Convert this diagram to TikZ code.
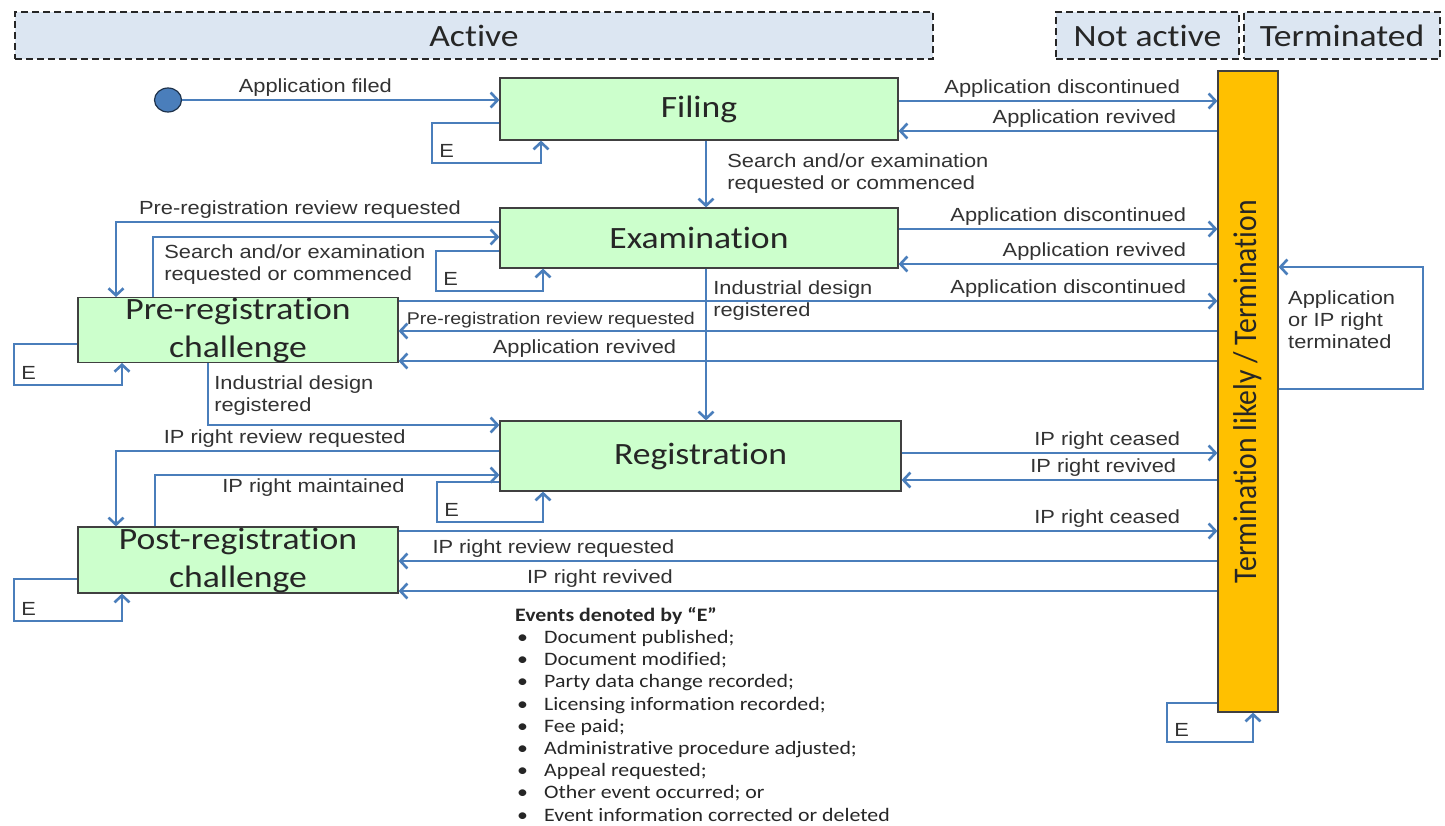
\documentclass[tikz,border=0pt]{standalone}
\usepackage{fontspec}
\setmainfont{Liberation Sans}
\newfontfamily\arrowfont[FakeStretch=1.15]{Liberation Sans}
\newfontfamily\statefont[FakeStretch=1.15,Ligatures=NoCommon,Contextuals=NoAlternate]{Carlito}
\newfontfamily\barfont[FakeStretch=0.9,Ligatures=NoCommon,Contextuals=NoAlternate]{Carlito}
\newfontfamily\notefont[FakeStretch=1.15,Ligatures=NoCommon,Contextuals=NoAlternate]{Carlito}
\usetikzlibrary{arrows.meta,shapes.geometric}
\definecolor{linkblue}{RGB}{74,126,187}
\definecolor{stategreen}{RGB}{204,255,204}
\definecolor{termorange}{RGB}{255,192,0}
\definecolor{phaseblue}{RGB}{220,230,242}
\definecolor{labelgray}{RGB}{50,50,50}

\begin{document}
\begin{tikzpicture}[x=1pt,y=-1pt,line join=miter,
    >={Straight Barb[length=7pt,width=15pt]},
    flow/.style={draw=linkblue,line width=2.6pt},
    state/.style={draw=black!75,line width=1.2pt,fill=stategreen,inner sep=0pt,align=center,
      text=black!85,font=\statefont\fontsize{31}{38}\selectfont},
    phase/.style={draw=black!85,line width=2pt,dash pattern=on 7pt off 4pt,fill=phaseblue,
      inner sep=0pt,minimum height=47pt,text=black!85,font=\statefont\fontsize{31}{38}\selectfont},
    lbl/.style={inner sep=2pt,align=left,text=labelgray,font=\arrowfont\fontsize{19}{22}\selectfont},
    rlbl/.style={lbl,anchor=south east,pos=1,xshift=-34pt},
    elbl/.style={lbl,anchor=south west,inner sep=0pt,xshift=6pt,yshift=4pt}]
\useasboundingbox (0,0) rectangle (1445,825);

% phases
\node (active) [phase,minimum width=918pt] at (474,35.5) {Active};
\node (notactive) [phase,minimum width=183pt] at (1147.5,35.5) {Not active};
\node (terminated) [phase,minimum width=196pt] at (1342,35.5) {Terminated};

% states
\node (start) [ellipse,draw=black!60!linkblue,line width=1.2pt,fill=linkblue,minimum width=27pt,minimum height=24pt,inner sep=0pt] at (168,100) {};
\node (filing) [state,minimum width=398pt,minimum height=62pt] at (699,109) {Filing};
\node (exam) [state,minimum width=398pt,minimum height=60pt] at (699,238) {Examination};
\node (prereg) [state,minimum width=320pt,minimum height=64pt] at (238,330) {Pre-registration\\challenge};
\node (reg) [state,minimum width=401pt,minimum height=70pt] at (700.5,456) {Registration};
\node (postreg) [state,minimum width=320pt,minimum height=66pt] at (238,560) {Post-registration\\challenge};
\node (term) [draw=black!75,line width=1.2pt,fill=termorange,minimum width=60pt,minimum height=641pt,inner sep=0pt] at (1248,391.5) {};
\node (termtext) [rotate=90,text=black!85,font=\barfont\fontsize{33}{38}\selectfont] at (term.center) {Termination likely / Termination};

% filing
\draw[flow,->] (start) -- (filing.west |- start) node[lbl,above,pos=.42] {Application filed};
\draw[flow,->] (filing.east |- 0,101) -- (term.west |- 0,101) node[rlbl] {Application discontinued};
\draw[flow,<-] (filing.east |- 0,131) -- (term.west |- 0,131) node[rlbl,xshift=-4pt] {Application revived};
\draw[flow,->] (filing.west |- 0,123) -| (432,163) node[elbl] {E} -| (filing.south -| 541,0);
\draw[flow,->] (filing.south -| 706,0) -- (exam.north -| 706,0) node[lbl,anchor=west,pos=.5,xshift=18pt] {Search and/or examination\\requested or commenced};

% examination
\draw[flow,->] (exam.east |- 0,229) -- (term.west |- 0,229) node[rlbl,xshift=6pt] {Application discontinued};
\draw[flow,<-] (exam.east |- 0,264) -- (term.west |- 0,264) node[rlbl,xshift=6pt] {Application revived};
\draw[flow,->] (exam.west |- 0,251) -| (436,291) node[elbl] {E} -| (exam.south -| 543,0);
\draw[flow,->] (exam.west |- 0,222) -| (prereg.north -| 116,0) node[lbl,above,pos=.26] {Pre-registration review requested};
\draw[flow,->] (prereg.north -| 153,0) |- (exam.west |- 0,237) node[lbl,anchor=north west,pos=.5,xshift=8pt,yshift=-4pt] {Search and/or examination\\requested or commenced};
\draw[flow,->] (exam.south -| 706,0) -- (reg.north -| 706,0) node[lbl,anchor=west,pos=.21,xshift=4pt] {Industrial design\\registered};

% pre-registration challenge
\draw[flow,->] (prereg.west |- 0,344) -| (14,385) node[elbl] {E} -| (prereg.south -| 122,0);
\draw[flow,->] (prereg.east |- 0,301) -- (term.west |- 0,301) node[rlbl,xshift=6pt] {Application discontinued};
\draw[flow,<-] (prereg.east |- 0,331) -- (term.west |- 0,331) node[lbl,anchor=south west,pos=0,xshift=5pt,font=\arrowfont\fontsize{17}{20}\selectfont] {Pre-registration review requested};
\draw[flow,<-] (prereg.east |- 0,361) -- (term.west |- 0,361) node[lbl,above,pos=.227] {Application revived};
\draw[flow,->] (prereg.south -| 208,0) |- (reg.west |- 0,425) node[lbl,anchor=north west,pos=0,xshift=3pt,yshift=-9pt] {Industrial design\\registered};

% registration
\draw[flow,->] (reg.east |- 0,453) -- (term.west |- 0,453) node[rlbl] {IP right ceased};
\draw[flow,<-] (reg.east |- 0,480) -- (term.west |- 0,480) node[rlbl,xshift=-4pt] {IP right revived};
\draw[flow,->] (reg.west |- 0,482) -| (437,522) node[elbl] {E} -| (reg.south -| 543,0);
\draw[flow,->] (reg.west |- 0,451) -| (postreg.north -| 116,0) node[lbl,above,pos=.28] {IP right review requested};
\draw[flow,->] (postreg.north -| 155,0) |- (reg.west |- 0,475) node[lbl,below,pos=.73] {IP right maintained};

% post-registration challenge
\draw[flow,->] (postreg.west |- 0,579) -| (14,621) node[elbl] {E} -| (postreg.south -| 122,0);
\draw[flow,->] (postreg.east |- 0,531) -- (term.west |- 0,531) node[rlbl] {IP right ceased};
\draw[flow,<-] (postreg.east |- 0,561) -- (term.west |- 0,561) node[lbl,above,pos=.189] {IP right review requested};
\draw[flow,<-] (postreg.east |- 0,591) -- (term.west |- 0,591) node[lbl,above,pos=.246] {IP right revived};

% termination
\draw[flow,->] (term.east |- 0,389) -| (1423,267) -- (term.east |- 0,267);
\node (termnote) [lbl,anchor=north west] at (1286,289) {Application\\or IP right\\terminated};
\draw[flow,->] (term.west |- 0,703) -| (1167,742) node[elbl] {E} -| (term.south -| 1253,0);

% events legend
\node (events) [anchor=north west,inner sep=0pt,align=left,text=black!85,
  font=\notefont\fontsize{19}{22.2}\selectfont] at (515,607) {\textbf{Events denoted by “E”}\\
  \hspace{2pt}\makebox[27pt][l]{\textbullet}Document published;\\
  \hspace{2pt}\makebox[27pt][l]{\textbullet}Document modified;\\
  \hspace{2pt}\makebox[27pt][l]{\textbullet}Party data change recorded;\\
  \hspace{2pt}\makebox[27pt][l]{\textbullet}Licensing information recorded;\\
  \hspace{2pt}\makebox[27pt][l]{\textbullet}Fee paid;\\
  \hspace{2pt}\makebox[27pt][l]{\textbullet}Administrative procedure adjusted;\\
  \hspace{2pt}\makebox[27pt][l]{\textbullet}Appeal requested;\\
  \hspace{2pt}\makebox[27pt][l]{\textbullet}Other event occurred; or\\
  \hspace{2pt}\makebox[27pt][l]{\textbullet}Event information corrected or deleted};
\end{tikzpicture}
\end{document}
